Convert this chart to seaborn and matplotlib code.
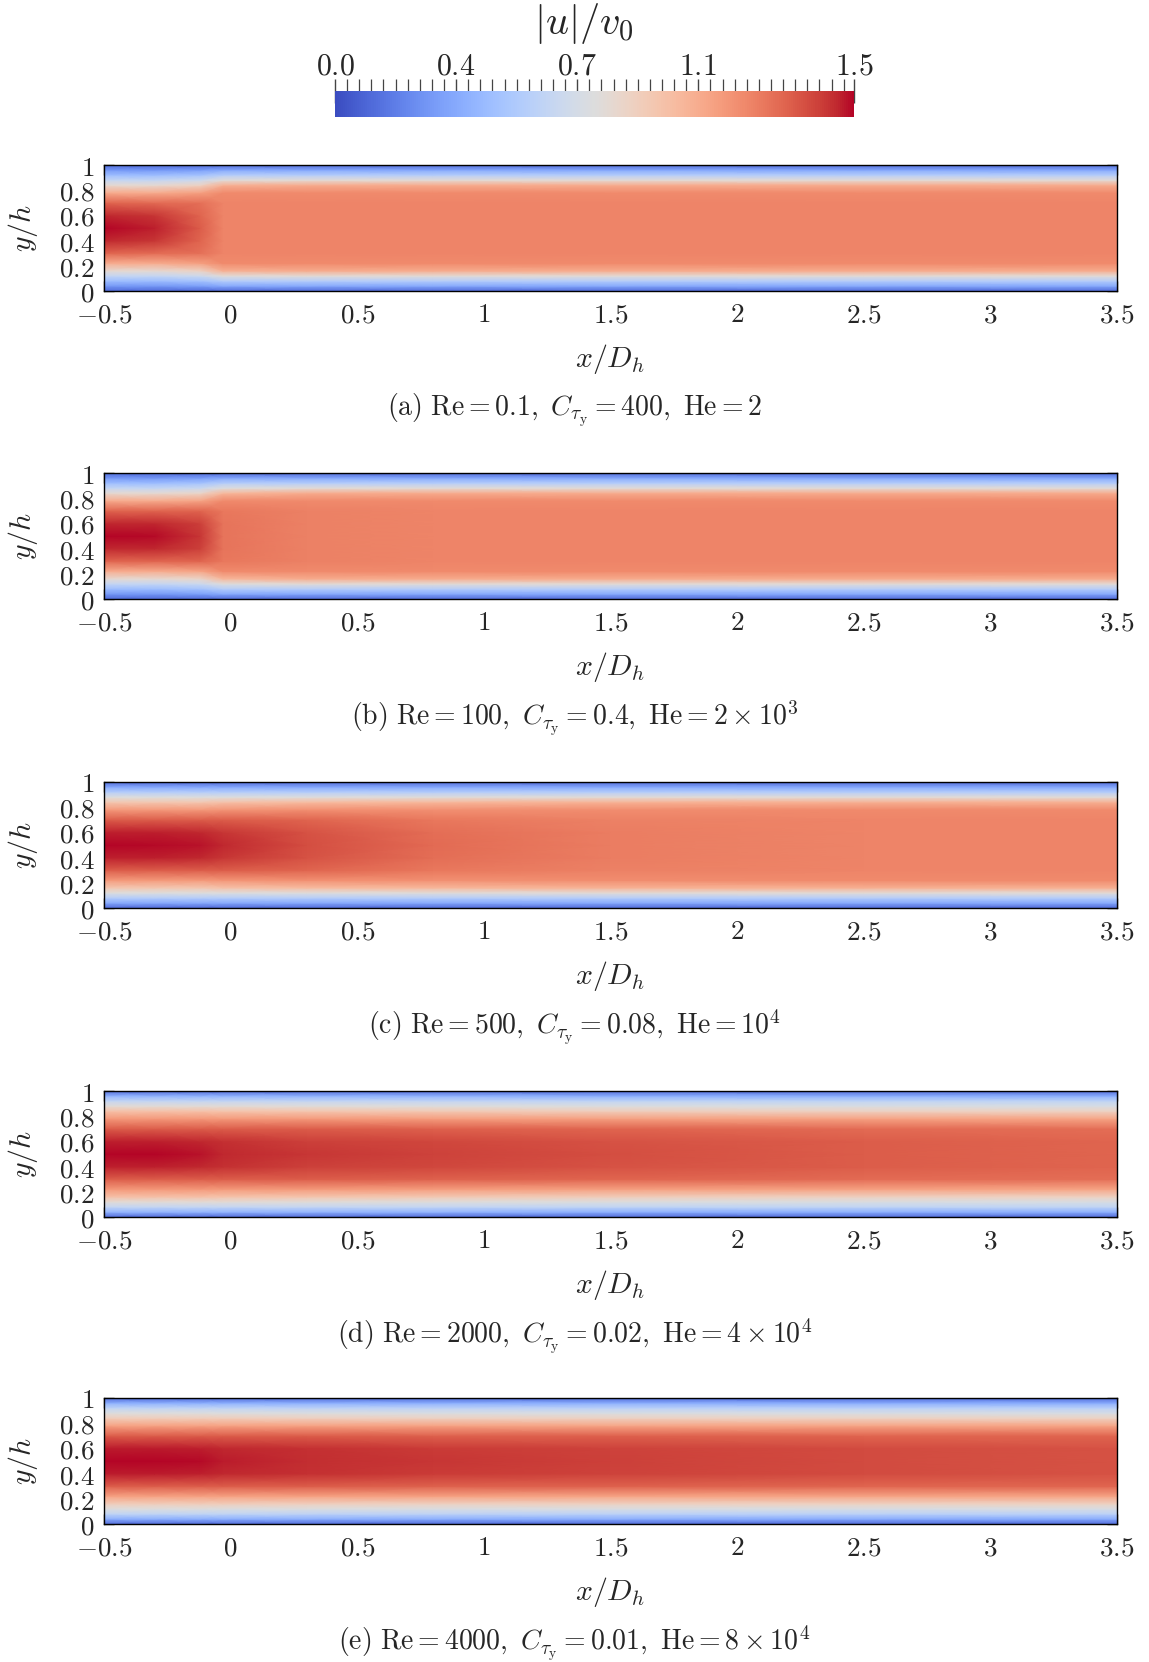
import numpy as np
import matplotlib
matplotlib.use("Agg")
import matplotlib.pyplot as plt
import seaborn as sns
from matplotlib.ticker import FixedLocator, FixedFormatter

# ---------------------------------------------------------------------------
# Sampled velocity magnitude |u|/v0 in the channel.
# Each field is given on the lower half-channel (wall -> centreline) at a set
# of streamwise stations; the upper half is the mirror image.
# ---------------------------------------------------------------------------
x_stations = [-0.5, -0.3, -0.12, -0.03, 0.3, 0.8, 1.5, 2.5, 3.5]
y_half = [0.0, 0.04, 0.08, 0.12, 0.16, 0.22, 0.30, 0.40, 0.50]

# rows: x stations, columns: y_half
speed_a = [
    [0.10, 0.28, 0.45, 0.62, 0.80, 1.05, 1.30, 1.45, 1.50],
    [0.10, 0.28, 0.45, 0.62, 0.80, 1.05, 1.28, 1.42, 1.46],
    [0.10, 0.30, 0.48, 0.66, 0.85, 1.10, 1.26, 1.30, 1.32],
    [0.10, 0.35, 0.55, 0.77, 1.03, 1.18, 1.20, 1.20, 1.20],
    [0.10, 0.35, 0.55, 0.78, 1.05, 1.18, 1.20, 1.20, 1.20],
    [0.10, 0.35, 0.55, 0.78, 1.05, 1.18, 1.20, 1.20, 1.20],
    [0.10, 0.35, 0.55, 0.78, 1.05, 1.18, 1.20, 1.20, 1.20],
    [0.10, 0.35, 0.55, 0.78, 1.05, 1.18, 1.20, 1.20, 1.20],
    [0.10, 0.35, 0.55, 0.78, 1.05, 1.18, 1.20, 1.20, 1.20],
]
speed_b = [
    [0.10, 0.28, 0.45, 0.62, 0.80, 1.05, 1.30, 1.45, 1.50],
    [0.10, 0.28, 0.45, 0.62, 0.80, 1.05, 1.30, 1.45, 1.49],
    [0.10, 0.30, 0.48, 0.65, 0.83, 1.08, 1.30, 1.40, 1.42],
    [0.10, 0.35, 0.55, 0.75, 1.00, 1.18, 1.24, 1.25, 1.25],
    [0.10, 0.35, 0.55, 0.78, 1.05, 1.18, 1.21, 1.21, 1.21],
    [0.10, 0.35, 0.55, 0.78, 1.05, 1.18, 1.20, 1.20, 1.20],
    [0.10, 0.35, 0.55, 0.78, 1.05, 1.18, 1.20, 1.20, 1.20],
    [0.10, 0.35, 0.55, 0.78, 1.05, 1.18, 1.20, 1.20, 1.20],
    [0.10, 0.35, 0.55, 0.78, 1.05, 1.18, 1.20, 1.20, 1.20],
]
speed_c = [
    [0.10, 0.35, 0.55, 0.75, 0.92, 1.12, 1.32, 1.46, 1.50],
    [0.10, 0.35, 0.55, 0.75, 0.92, 1.12, 1.32, 1.46, 1.49],
    [0.10, 0.35, 0.55, 0.75, 0.92, 1.12, 1.32, 1.45, 1.48],
    [0.10, 0.35, 0.55, 0.75, 0.95, 1.14, 1.32, 1.42, 1.45],
    [0.10, 0.35, 0.55, 0.76, 0.98, 1.16, 1.30, 1.35, 1.36],
    [0.10, 0.35, 0.55, 0.77, 1.00, 1.16, 1.24, 1.27, 1.28],
    [0.10, 0.35, 0.55, 0.78, 1.02, 1.17, 1.21, 1.22, 1.22],
    [0.10, 0.35, 0.55, 0.78, 1.03, 1.18, 1.20, 1.20, 1.20],
    [0.10, 0.35, 0.55, 0.78, 1.03, 1.18, 1.20, 1.20, 1.20],
]
speed_d = [
    [0.10, 0.40, 0.62, 0.78, 0.95, 1.13, 1.32, 1.46, 1.50],
    [0.10, 0.40, 0.62, 0.78, 0.95, 1.13, 1.32, 1.46, 1.50],
    [0.10, 0.40, 0.62, 0.78, 0.95, 1.13, 1.32, 1.45, 1.48],
    [0.10, 0.40, 0.62, 0.78, 0.94, 1.12, 1.32, 1.43, 1.45],
    [0.10, 0.40, 0.62, 0.77, 0.93, 1.12, 1.32, 1.40, 1.42],
    [0.10, 0.40, 0.61, 0.76, 0.91, 1.11, 1.31, 1.38, 1.39],
    [0.10, 0.38, 0.60, 0.74, 0.88, 1.10, 1.30, 1.35, 1.36],
    [0.10, 0.38, 0.60, 0.73, 0.86, 1.09, 1.28, 1.32, 1.32],
    [0.10, 0.38, 0.60, 0.72, 0.85, 1.08, 1.27, 1.30, 1.30],
]
speed_e = [
    [0.10, 0.38, 0.60, 0.75, 0.88, 1.09, 1.32, 1.47, 1.50],
    [0.10, 0.38, 0.60, 0.75, 0.88, 1.09, 1.32, 1.47, 1.50],
    [0.10, 0.38, 0.60, 0.75, 0.88, 1.09, 1.32, 1.46, 1.49],
    [0.10, 0.38, 0.60, 0.74, 0.88, 1.09, 1.32, 1.45, 1.47],
    [0.10, 0.38, 0.59, 0.74, 0.87, 1.09, 1.32, 1.43, 1.44],
    [0.10, 0.37, 0.59, 0.73, 0.86, 1.09, 1.31, 1.41, 1.42],
    [0.10, 0.37, 0.58, 0.73, 0.86, 1.08, 1.31, 1.39, 1.40],
    [0.10, 0.36, 0.58, 0.72, 0.85, 1.08, 1.30, 1.37, 1.37],
    [0.10, 0.36, 0.58, 0.72, 0.85, 1.08, 1.30, 1.35, 1.35],
]
fields = [speed_a, speed_b, speed_c, speed_d, speed_e]

captions = [
    r"$\mathrm{(a)\ Re} = 0.1,\ C_{\tau_{\mathrm{y}}} = 400,\ \mathrm{He} = 2$",
    r"$\mathrm{(b)\ Re} = 100,\ C_{\tau_{\mathrm{y}}} = 0.4,\ \mathrm{He} = 2 \times 10^{3}$",
    r"$\mathrm{(c)\ Re} = 500,\ C_{\tau_{\mathrm{y}}} = 0.08,\ \mathrm{He} = 10^{4}$",
    r"$\mathrm{(d)\ Re} = 2000,\ C_{\tau_{\mathrm{y}}} = 0.02,\ \mathrm{He} = 4 \times 10^{4}$",
    r"$\mathrm{(e)\ Re} = 4000,\ C_{\tau_{\mathrm{y}}} = 0.01,\ \mathrm{He} = 8 \times 10^{4}$",
]

x_ticks = [-0.5, 0.0, 0.5, 1.0, 1.5, 2.0, 2.5, 3.0, 3.5]
x_tick_labels = [r"$-0.5$", r"$0$", r"$0.5$", r"$1$", r"$1.5$", r"$2$",
                 r"$2.5$", r"$3$", r"$3.5$"]
y_ticks = [0.0, 0.2, 0.4, 0.6, 0.8, 1.0]
y_tick_labels = [r"$0$", r"$0.2$", r"$0.4$", r"$0.6$", r"$0.8$", r"$1$"]

cbar_ticks = [0.0, 0.35, 0.7, 1.05, 1.5]
cbar_tick_labels = [r"$0.0$", r"$0.4$", r"$0.7$", r"$1.1$", r"$1.5$"]
cbar_minor_step = 0.035
vmin, vmax = 0.0, 1.5

# ---------------------------------------------------------------------------
sns.set_theme(style="ticks")
plt.rcParams.update({
    "mathtext.fontset": "cm",
    "font.family": ["DejaVu Serif"],
    "axes.linewidth": 1.0,
    "axes.edgecolor": "black",
})
cmap = sns.color_palette("coolwarm", as_cmap=True)

W, H = 1149, 1662
fig = plt.figure(figsize=(W / 100, H / 100), dpi=100)

ax_left, ax_right = 104, 1117
ax_h = 126
ax_tops = [165, 473, 782, 1091, 1398]

xs = np.array(x_stations)
yh = np.array(y_half)
y_full = np.concatenate([yh, 1.0 - yh[::-1][1:]])
X, Y = np.meshgrid(xs, y_full)

mesh = None
for top, field, cap in zip(ax_tops, fields, captions):
    half = np.array(field).T                      # (ny_half, nx)
    full = np.concatenate([half, half[::-1][1:]], axis=0)
    ax = fig.add_axes([ax_left / W, 1 - (top + ax_h) / H,
                       (ax_right - ax_left) / W, ax_h / H])
    mesh = ax.pcolormesh(X, Y, full, cmap=cmap, vmin=vmin, vmax=vmax,
                         shading="gouraud", rasterized=True)
    ax.set_xlim(-0.5, 3.5)
    ax.set_ylim(0, 1)
    ax.xaxis.set_major_locator(FixedLocator(x_ticks))
    ax.xaxis.set_major_formatter(FixedFormatter(x_tick_labels))
    ax.yaxis.set_major_locator(FixedLocator(y_ticks))
    ax.yaxis.set_major_formatter(FixedFormatter(y_tick_labels))
    ax.tick_params(axis="both", which="major", direction="in", length=7.2,
                   width=1.0, color="#333333", labelsize=19.5,
                   top=True, right=True)
    ax.tick_params(axis="x", pad=7.5)
    ax.tick_params(axis="y", pad=7)
    for s in ax.spines.values():
        s.set_linewidth(1.0)
        s.set_color("black")

    bottom = top + ax_h
    xc = (ax_left + ax_right) / 2
    fig.text(xc / W, 1 - (bottom + 68) / H, r"$x/D_h$", ha="center",
             va="center", fontsize=21.5)
    fig.text(23 / W, 1 - (top + ax_h / 2) / H, r"$y/h$", ha="center",
             va="center", rotation=90, fontsize=21.5)
    fig.text(0.5, 1 - (bottom + 119) / H, cap, ha="center", va="center",
             fontsize=20)

# colour bar on top
cax = fig.add_axes([335 / W, 1 - 117 / H, (854 - 335) / W, 26 / H])
cb = fig.colorbar(mesh, cax=cax, orientation="horizontal")
cb.outline.set_visible(False)
cax.xaxis.set_ticks_position("top")
cax.xaxis.set_label_position("top")
cb.set_ticks(cbar_ticks)
cb.set_ticklabels(cbar_tick_labels)
minor = np.arange(0.0, vmax + 1e-9, cbar_minor_step)
minor = np.append(minor, vmax)
cax.xaxis.set_minor_locator(FixedLocator(minor))
cax.tick_params(axis="x", which="major", direction="inout", length=17,
                width=1.0, color="#444444", labelsize=21.5, pad=-1)
cax.tick_params(axis="x", which="minor", direction="out", length=8.8,
                width=0.9, color="#444444")
fig.text(584 / W, 1 - 24 / H, r"$|u|/v_0$", ha="center", va="center",
         fontsize=29)

fig.savefig("out.png", dpi=100)
